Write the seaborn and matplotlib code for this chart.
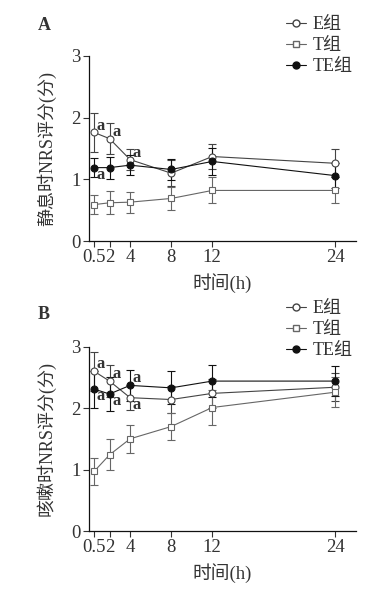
import matplotlib
matplotlib.use('Agg')
import matplotlib.pyplot as plt
import pandas as pd
import seaborn as sns
from matplotlib.lines import Line2D

sns.set_theme(style='ticks')
plt.rcParams['font.family'] = ['Liberation Serif', 'Noto Sans CJK SC', 'DejaVu Sans']
plt.rcParams['axes.unicode_minus'] = False

# time points (h)
hours = [0.5, 2, 4, 8, 12, 24]
groups = ['E组', 'T组', 'TE组']

# panel A: NRS at rest, mean and sd
rest_E = [1.76, 1.66, 1.32, 1.10, 1.37, 1.26]
rest_E_sd = [0.31, 0.25, 0.17, 0.21, 0.20, 0.23]
rest_T = [0.59, 0.62, 0.63, 0.69, 0.82, 0.82]
rest_T_sd = [0.16, 0.19, 0.17, 0.19, 0.21, 0.21]
rest_TE = [1.19, 1.19, 1.23, 1.16, 1.29, 1.06]
rest_TE_sd = [0.16, 0.18, 0.16, 0.17, 0.22, 0.20]

# panel B: NRS when coughing
cough_E = [2.60, 2.44, 2.17, 2.14, 2.24, 2.34]
cough_E_sd = [0.32, 0.26, 0.20, 0.22, 0.23, 0.23]
cough_T = [0.97, 1.24, 1.50, 1.70, 2.01, 2.26]
cough_T_sd = [0.22, 0.25, 0.23, 0.22, 0.28, 0.24]
cough_TE = [2.31, 2.23, 2.37, 2.33, 2.44, 2.44]
cough_TE_sd = [0.30, 0.27, 0.25, 0.27, 0.26, 0.24]

# significance marks: (group, hour, above?)
marks_A = [('E组', 0.5, True), ('E组', 2, True), ('E组', 4, True), ('TE组', 0.5, False)]
marks_B = [('E组', 0.5, True), ('E组', 2, True), ('E组', 4, False),
           ('TE组', 0.5, False), ('TE组', 2, False), ('TE组', 4, True)]

styles = {
    'E组': dict(color='#444444', marker='o', mfc='white'),
    'T组': dict(color='#666666', marker='s', mfc='white'),
    'TE组': dict(color='#111111', marker='o', mfc='#111111'),
}
txt = '#333333'


def draw_panel(ax, means, sds, marks, ylabel, letter, fig_y, leg_y):
    df = pd.DataFrame({'hour': hours * 3,
                       'score': means[0] + means[1] + means[2],
                       'group': sum([[g] * len(hours) for g in groups], [])})
    for g, m, s in zip(groups, means, sds):
        st = styles[g]
        ax.errorbar(hours, m, yerr=s, fmt='none', ecolor=st['color'],
                    elinewidth=0.8, capsize=3, capthick=0.8, zorder=2)
        sns.lineplot(data=df[df.group == g], x='hour', y='score', ax=ax,
                     color=st['color'], marker=st['marker'], markersize=5,
                     markerfacecolor=st['mfc'], markeredgecolor=st['color'],
                     markeredgewidth=0.8, linewidth=0.8, zorder=3)
    lookup = dict(zip(groups, means))
    for g, h, up in marks:
        y = lookup[g][hours.index(h)]
        ax.annotate('a', (h, y), xytext=(2, 5 if up else -5), textcoords='offset points',
                    ha='left', va='center', fontsize=12, fontweight='bold', color=txt)

    ax.set_xlim(0, 26)
    ax.set_ylim(0, 3)
    ax.set_xticks(hours)
    ax.set_xticklabels(['0.5', '2', '4', '8', '12', '24'])
    ax.set_yticks([0, 1, 2, 3])
    ax.tick_params(labelsize=13.5, colors=txt, length=4, width=0.8, pad=2)
    for sp in ['top', 'right']:
        ax.spines[sp].set_visible(False)
    for sp in ['left', 'bottom']:
        ax.spines[sp].set_linewidth(0.9)
        ax.spines[sp].set_color('#111111')
    ax.set_xlabel('时间(h)', fontsize=13.5, color=txt, labelpad=5)
    ax.set_ylabel(ylabel, fontsize=13, color=txt, labelpad=11)

    handles = [Line2D([], [], color=styles[g]['color'], marker=styles[g]['marker'],
                      markerfacecolor=styles[g]['mfc'], markeredgecolor=styles[g]['color'],
                      markersize=5, linewidth=0.8) for g in groups]
    leg = ax.legend(handles, groups, loc='upper left', bbox_to_anchor=(0.71, leg_y),
                    frameon=False, fontsize=13, handlelength=1.1, handletextpad=0.4,
                    labelspacing=0.22, borderaxespad=0)
    for t in leg.get_texts():
        t.set_color(txt)
    fig.text(0.097, fig_y, letter, fontsize=13, fontweight='bold', color=txt, va='top')


fig = plt.figure(figsize=(3.91, 5.90), dpi=100)
axA = fig.add_axes([0.2276, 0.5915, 0.6829, 0.3136])
axB = fig.add_axes([0.2276, 0.1000, 0.6829, 0.3124])
draw_panel(axA, [rest_E, rest_T, rest_TE], [rest_E_sd, rest_T_sd, rest_TE_sd],
           marks_A, '静息时NRS评分(分)', 'A', 0.971, 1.255)
draw_panel(axB, [cough_E, cough_T, cough_TE], [cough_E_sd, cough_T_sd, cough_TE_sd],
           marks_B, '咳嗽时NRS评分(分)', 'B', 0.482, 1.29)

fig.savefig('out.png', dpi=100)
